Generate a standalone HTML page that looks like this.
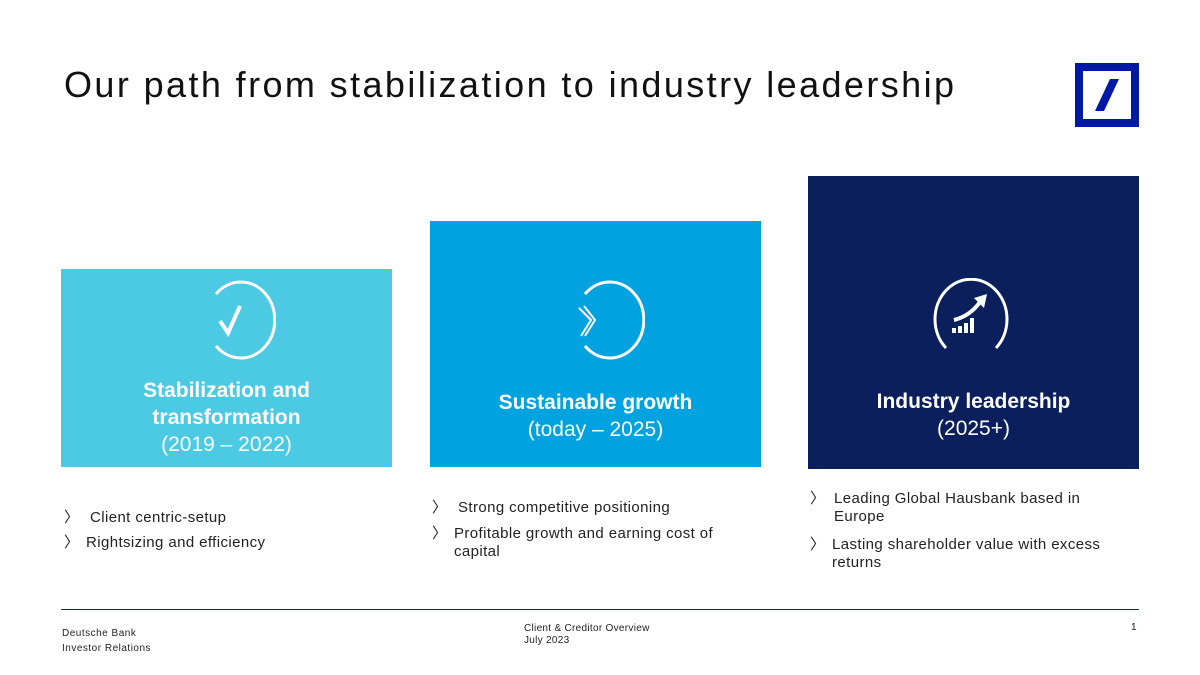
<!DOCTYPE html>
<html><head><meta charset="utf-8"><style>
body{margin:0;width:1200px;height:675px;background:#fff;position:relative;overflow:hidden;font-family:"Liberation Sans",sans-serif;color:#111}
.a{position:absolute}
.box{position:absolute;color:#fff;text-align:center}
.t{position:absolute;left:0;right:0;font-size:21px;line-height:27px}
.t b{font-weight:bold}
.bl{position:absolute;font-size:15px;line-height:18px;color:#222;letter-spacing:0.4px}
.bl span{position:absolute;left:0}
</style></head><body>
<div class="a" style="left:64px;top:64px;font-size:36px;letter-spacing:2.4px;color:#111">Our path from stabilization to industry leadership</div>
<svg class="a" style="left:1075px;top:63px" width="64" height="64"><rect width="64" height="64" fill="#0018a8"/><rect x="8" y="8" width="48" height="48" fill="#fff"/><polygon points="35,16 44,16 29,48 20,48" fill="#0018a8"/></svg>

<div class="box" style="left:61px;top:269px;width:331px;height:198px;background:#4ccae4">
<svg class="a" style="left:135px;top:9px" width="80" height="84"><path d="M20,16 A34,38 0 1 1 20,68" fill="none" stroke="#fff" stroke-width="3"/><path d="M24,43 L32,55 L44,28" fill="none" stroke="#fff" stroke-width="4"/></svg>
<div class="t" style="top:108px"><b>Stabilization and<br>transformation</b><br>(2019 – 2022)</div></div>

<div class="box" style="left:430px;top:221px;width:331px;height:246px;background:#00a3e0">
<svg class="a" style="left:135px;top:57px" width="80" height="84"><path d="M20,16 A34,38 0 1 1 20,68" fill="none" stroke="#fff" stroke-width="3"/><path d="M14,30 L26,42 L16,58 M19,28 L30,42 L20,58" fill="none" stroke="#fff" stroke-width="2"/></svg>
<div class="t" style="top:168px"><b>Sustainable growth</b><br>(today – 2025)</div></div>

<div class="box" style="left:808px;top:176px;width:331px;height:293px;background:#0a1f5c">
<svg class="a" style="left:122px;top:102px" width="82" height="76"><path d="M16,70 A36,40 0 1 1 66,70" fill="none" stroke="#fff" stroke-width="3"/><path d="M24,42 Q40,38 50,24" fill="none" stroke="#fff" stroke-width="4"/><polygon points="44,20 57,16 54,30" fill="#fff"/><rect x="22" y="50" width="4" height="5" fill="#fff"/><rect x="28" y="48" width="4" height="7" fill="#fff"/><rect x="34" y="45" width="4" height="10" fill="#fff"/><rect x="40" y="40" width="4" height="15" fill="#fff"/></svg>
<div class="t" style="top:212px"><b>Industry leadership</b><br>(2025+)</div></div>

<div class="bl" style="left:64px;top:509px;width:320px">
<div style="position:relative;padding-left:26px;margin-bottom:7px"><span>〉</span>Client centric-setup</div>
<div style="position:relative;padding-left:22px"><span>〉</span>Rightsizing and efficiency</div></div>
<div class="bl" style="left:432px;top:499px;width:315px">
<div style="position:relative;padding-left:26px;margin-bottom:8px"><span>〉</span>Strong competitive positioning</div>
<div style="position:relative;padding-left:22px"><span>〉</span>Profitable growth and earning cost of capital</div></div>
<div class="bl" style="left:810px;top:490px;width:300px">
<div style="position:relative;padding-left:24px;margin-bottom:10px"><span>〉</span>Leading Global Hausbank based in Europe</div>
<div style="position:relative;padding-left:22px"><span>〉</span>Lasting shareholder value with excess returns</div></div>

<div class="a" style="left:61px;top:609px;width:1078px;height:1px;background:#1a2a40"></div>
<div class="a" style="left:62px;top:626px;font-size:10px;line-height:15px;color:#222;letter-spacing:0.5px">Deutsche Bank<br>Investor Relations</div>
<div class="a" style="left:524px;top:623px;font-size:10px;line-height:12px;color:#222;letter-spacing:0.3px">Client &amp; Creditor Overview<br>July 2023</div>
<div class="a" style="left:1131px;top:622px;font-size:10px;color:#222">1</div>
</body></html>
